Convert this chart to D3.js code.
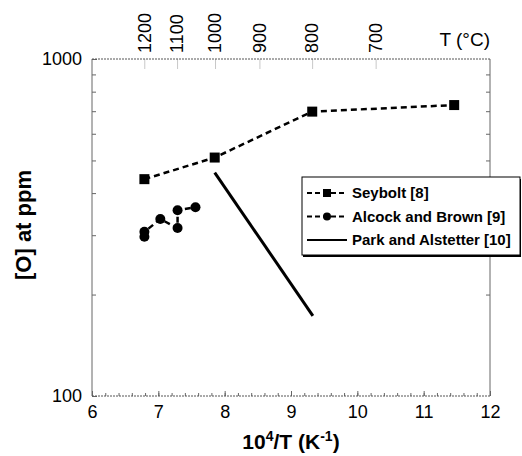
<!DOCTYPE html>
<html>
<head>
<meta charset="utf-8">
<script src="https://cdn.jsdelivr.net/npm/d3@7"></script>
<style>
  body { margin: 0; background: #fff; }
  text { font-family: "Liberation Sans", Arial, sans-serif; fill: #000; }
</style>
</head>
<body>
<div class="chart"></div>
<script>
// Seybolt [8]
var seyboltX = [6.79, 7.85, 9.32, 11.46];
var seyboltY = [440, 510, 698, 730];
// Alcock and Brown [9]
var alcockX = [6.79, 6.79, 7.03, 7.29, 7.29, 7.56];
var alcockY = [297, 307, 335, 315, 356, 363];
// Park and Alstetter [10]
var parkX = [7.85, 9.33];
var parkY = [460, 173];
// top axis, temperature in C
var tempC = [1200, 1100, 1000, 900, 800, 700];
var xTicks = [6, 7, 8, 9, 10, 11, 12];
var yTicks = [100, 1000];
var seriesNames = ['Seybolt [8]', 'Alcock and Brown [9]', 'Park and Alstetter [10]'];

var margin = { top: 59, right: 32, bottom: 60, left: 92 };
var width = 522 - margin.left - margin.right;
var height = 456 - margin.top - margin.bottom;

var xScale = d3.scaleLinear().domain([6, 12]).range([0, width]);
var yScale = d3.scaleLog().domain([100, 1000]).range([height, 0]);

var svg = d3.select('.chart').append('svg')
    .attr('width', 522)
    .attr('height', 456)
  .append('g')
    .attr('transform', 'translate(' + margin.left + ',' + margin.top + ')');

var axisColor = '#666';

// minor ticks on bottom
var minorX = d3.range(6, 12.001, 0.2).map(function(d) { return +d.toFixed(1); });
svg.append('g')
    .attr('transform', 'translate(0,' + height + ')')
    .call(d3.axisBottom(xScale).tickValues(minorX).tickSize(-3).tickFormat(''))
    .call(function(g) { g.select('.domain').remove(); g.selectAll('line').attr('stroke', axisColor); });

svg.append('g')
    .attr('transform', 'translate(0,' + height + ')')
    .call(d3.axisBottom(xScale).tickValues(xTicks).tickSize(-5).tickPadding(9).tickFormat(d3.format('d')))
    .call(function(g) {
      g.select('.domain').remove();
      g.selectAll('line').attr('stroke', axisColor);
      g.selectAll('text').style('font-size', '18px').attr('font-family', null);
    });

// left axis
var minorY = d3.range(200, 1000, 100);
svg.append('g')
    .call(d3.axisLeft(yScale).tickValues(minorY).tickSize(-4).tickFormat(''))
    .call(function(g) { g.select('.domain').remove(); g.selectAll('line').attr('stroke', axisColor); });
svg.append('g')
    .call(d3.axisLeft(yScale).tickValues(yTicks).tickSize(-5).tickPadding(10).tickFormat(d3.format('d')))
    .call(function(g) {
      g.select('.domain').remove();
      g.selectAll('line').attr('stroke', axisColor);
      g.selectAll('text').style('font-size', '18px').attr('font-family', null);
    });

// right axis
svg.append('g')
    .attr('transform', 'translate(' + width + ',0)')
    .call(d3.axisRight(yScale).tickValues(minorY).tickSize(-4).tickFormat(''))
    .call(function(g) { g.select('.domain').remove(); g.selectAll('line').attr('stroke', axisColor); });

// top axis (temperature)
var invT = function(t) { return 1e4 / (t + 273.15); };
svg.append('g')
    .call(d3.axisTop(xScale).tickValues(tempC.map(invT)).tickSize(-10).tickFormat(''))
    .call(function(g) { g.select('.domain').remove(); g.selectAll('line').attr('stroke', '#c8c8c8'); });

svg.append('g').selectAll('text')
    .data(tempC)
  .enter().append('text')
    .attr('transform', function(d) { return 'translate(' + xScale(invT(d)) + ',-6) rotate(-90)'; })
    .attr('dy', '0.35em')
    .style('font-size', '18px')
    .text(function(d) { return d; });

svg.append('text')
    .attr('x', width)
    .attr('y', -13)
    .attr('text-anchor', 'end')
    .style('font-size', '19px')
    .text('T (\u00b0C)');

// frame
svg.append('line').attr('x1', 0).attr('x2', 0).attr('y1', 0).attr('y2', height)
    .attr('stroke', axisColor);
svg.append('line').attr('x1', width).attr('x2', width).attr('y1', 0).attr('y2', height)
    .attr('stroke', axisColor);
svg.append('line').attr('x1', 0).attr('x2', width).attr('y1', 0).attr('y2', 0)
    .attr('stroke', '#555').attr('stroke-dasharray', '2,1');
svg.append('line').attr('x1', 0).attr('x2', width).attr('y1', height).attr('y2', height)
    .attr('stroke', '#555').attr('stroke-dasharray', '2,1');

// axis titles
svg.append('text')
    .attr('transform', 'translate(' + (23 - margin.left) + ',' + (225 - margin.top) + ') rotate(-90)')
    .attr('dy', '0.35em')
    .attr('text-anchor', 'middle')
    .style('font-size', '22px')
    .style('font-weight', 'bold')
    .text('[O] at ppm');

var xt = svg.append('text')
    .attr('x', width / 2)
    .attr('y', height + 53)
    .attr('text-anchor', 'middle')
    .style('font-size', '21px')
    .style('font-weight', 'bold');
xt.append('tspan').text('10');
xt.append('tspan').attr('dy', -8).style('font-size', '14px').text('4');
xt.append('tspan').attr('dy', 8).text('/T (K');
xt.append('tspan').attr('dy', -8).style('font-size', '14px').text('-1');
xt.append('tspan').attr('dy', 8).text(')');

// series
var zip = function(xs, ys) { return xs.map(function(x, i) { return { x: x, y: ys[i] }; }); };
var seybolt = zip(seyboltX, seyboltY);
var alcock = zip(alcockX, alcockY);
var park = zip(parkX, parkY);

var line = d3.line()
    .x(function(d) { return xScale(d.x); })
    .y(function(d) { return yScale(d.y); });

svg.append('path').datum(seybolt).attr('d', line)
    .attr('fill', 'none').attr('stroke', '#000').attr('stroke-width', 2.5).attr('stroke-dasharray', '6,4');
svg.append('path').datum(alcock).attr('d', line)
    .attr('fill', 'none').attr('stroke', '#000').attr('stroke-width', 2.5).attr('stroke-dasharray', '6,4');
svg.append('path').datum(park).attr('d', line)
    .attr('fill', 'none').attr('stroke', '#000').attr('stroke-width', 3);

svg.selectAll('.sq').data(seybolt).enter().append('rect')
    .attr('x', function(d) { return xScale(d.x) - 5; })
    .attr('y', function(d) { return yScale(d.y) - 5; })
    .attr('width', 10).attr('height', 10).attr('fill', '#000');
svg.selectAll('.ci').data(alcock).enter().append('circle')
    .attr('cx', function(d) { return xScale(d.x); })
    .attr('cy', function(d) { return yScale(d.y); })
    .attr('r', 5).attr('fill', '#000');

// legend
var lg = svg.append('g').attr('transform', 'translate(210,118)');
lg.append('rect').attr('x', 1).attr('y', 2).attr('width', 218).attr('height', 78).attr('fill', '#000');
lg.append('rect').attr('x', 0).attr('y', 0).attr('width', 218).attr('height', 78)
    .attr('fill', '#fff').attr('stroke', '#000').attr('stroke-width', 1);

var rows = lg.selectAll('.row').data(seriesNames).enter().append('g')
    .attr('transform', function(d, i) { return 'translate(0,' + (16 + i * 23.5) + ')'; });
rows.append('line')
    .attr('x1', 5).attr('x2', 45)
    .attr('stroke', '#000')
    .attr('stroke-width', 2)
    .attr('stroke-dasharray', function(d, i) { return i === 2 ? null : '5,3'; });
rows.filter(function(d, i) { return i === 0; }).append('rect')
    .attr('x', 21).attr('y', -4).attr('width', 8).attr('height', 8).attr('fill', '#000');
rows.filter(function(d, i) { return i === 1; }).append('circle')
    .attr('cx', 25).attr('r', 4).attr('fill', '#000');
rows.append('text')
    .attr('x', 50)
    .attr('dy', '0.35em')
    .style('font-size', '15px')
    .style('font-weight', 'bold')
    .text(function(d) { return d; });
</script>
</body>
</html>
